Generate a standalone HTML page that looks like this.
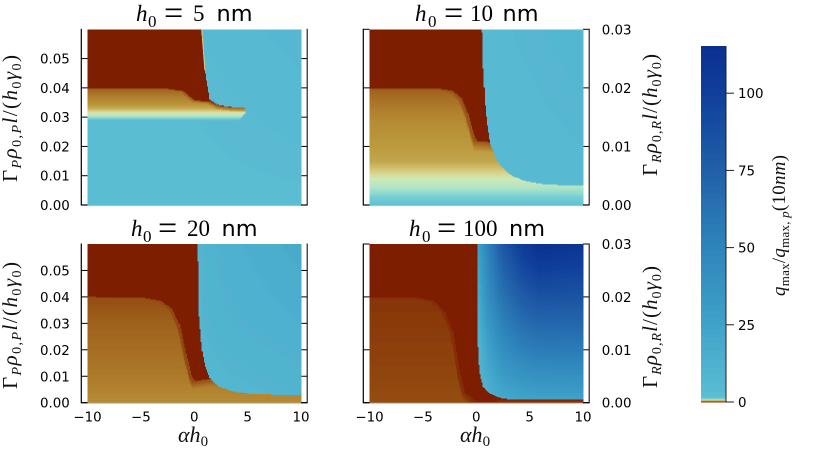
<!DOCTYPE html>
<html lang="en">
<head>
<meta charset="utf-8">
<title>Heatmaps of q_max over alpha h0 for four film thicknesses</title>
<style>
html,body{margin:0;padding:0;background:#fff;width:830px;height:475px;overflow:hidden}
svg{display:block}
.tick{font-family:"DejaVu Sans",sans-serif;font-size:13.4px;fill:#000}
.math{font-family:"Liberation Serif",serif;fill:#111}
.title-text{font-family:"Liberation Serif",serif;font-size:23px;fill:#000}
.sans{font-family:"DejaVu Sans",sans-serif;font-size:22.4px}
.eq{font-size:34px}
</style>
</head>
<body>
<svg id="chart" xmlns="http://www.w3.org/2000/svg" width="830" height="475" viewBox="0 0 830 475">
  <rect x="0" y="0" width="830" height="475" fill="#fff"/>
  <g id="panels"></g>

  <text class="title-text" y="21"><tspan x="136" font-style="italic">h</tspan><tspan x="148" y="27" font-size="17">0</tspan><tspan x="164" y="24" class="eq">=</tspan><tspan x="193" y="21">5</tspan><tspan x="216.5" y="21" class="sans">nm</tspan></text>
  <text class="title-text" y="21"><tspan x="415" font-style="italic">h</tspan><tspan x="428" y="27" font-size="17">0</tspan><tspan x="444" y="24" class="eq">=</tspan><tspan x="470" y="21">10</tspan><tspan x="502.5" y="21" class="sans">nm</tspan></text>
  <text class="title-text" y="236"><tspan x="131" font-style="italic">h</tspan><tspan x="143" y="242" font-size="17">0</tspan><tspan x="158" y="239" class="eq">=</tspan><tspan x="187" y="236">20</tspan><tspan x="221.5" y="236" class="sans">nm</tspan></text>
  <text class="title-text" y="236"><tspan x="409" font-style="italic">h</tspan><tspan x="422" y="242" font-size="17">0</tspan><tspan x="437" y="239" class="eq">=</tspan><tspan x="463" y="236">100</tspan><tspan x="509" y="236" class="sans">nm</tspan></text>

  <text class="math" font-size="21" textLength="127" transform="translate(17,182) rotate(-90)">Γ<tspan dy="4" font-size="14" font-style="italic">P</tspan><tspan dy="-4" font-style="italic">ρ</tspan><tspan dy="4" font-size="14">0,</tspan><tspan font-size="14" font-style="italic">P</tspan><tspan dy="-4" font-style="italic">l</tspan>/(<tspan font-style="italic">h</tspan><tspan dy="4" font-size="14">0</tspan><tspan dy="-4" font-style="italic">γ</tspan><tspan dy="4" font-size="14">0</tspan><tspan dy="-4">)</tspan></text>
  <text class="math" font-size="21" textLength="127" transform="translate(17,389) rotate(-90)">Γ<tspan dy="4" font-size="14" font-style="italic">P</tspan><tspan dy="-4" font-style="italic">ρ</tspan><tspan dy="4" font-size="14">0,</tspan><tspan font-size="14" font-style="italic">P</tspan><tspan dy="-4" font-style="italic">l</tspan>/(<tspan font-style="italic">h</tspan><tspan dy="4" font-size="14">0</tspan><tspan dy="-4" font-style="italic">γ</tspan><tspan dy="4" font-size="14">0</tspan><tspan dy="-4">)</tspan></text>
  <text class="math" font-size="21" textLength="122" transform="translate(657,176) rotate(-90)">Γ<tspan dy="4" font-size="14" font-style="italic">R</tspan><tspan dy="-4" font-style="italic">ρ</tspan><tspan dy="4" font-size="14">0,</tspan><tspan font-size="14" font-style="italic">R</tspan><tspan dy="-4" font-style="italic">l</tspan>/(<tspan font-style="italic">h</tspan><tspan dy="4" font-size="14">0</tspan><tspan dy="-4" font-style="italic">γ</tspan><tspan dy="4" font-size="14">0</tspan><tspan dy="-4">)</tspan></text>
  <text class="math" font-size="21" textLength="122" transform="translate(657,388) rotate(-90)">Γ<tspan dy="4" font-size="14" font-style="italic">R</tspan><tspan dy="-4" font-style="italic">ρ</tspan><tspan dy="4" font-size="14">0,</tspan><tspan font-size="14" font-style="italic">R</tspan><tspan dy="-4" font-style="italic">l</tspan>/(<tspan font-style="italic">h</tspan><tspan dy="4" font-size="14">0</tspan><tspan dy="-4" font-style="italic">γ</tspan><tspan dy="4" font-size="14">0</tspan><tspan dy="-4">)</tspan></text>

  <text class="math" font-size="22" y="442"><tspan x="178" font-style="italic">αh</tspan><tspan dy="4" font-size="15">0</tspan></text>
  <text class="math" font-size="22" y="442"><tspan x="460" font-style="italic">αh</tspan><tspan dy="4" font-size="15">0</tspan></text>

  <text class="math" font-size="19" textLength="141" transform="translate(785,296) rotate(-90)"><tspan font-style="italic">q</tspan><tspan dy="4" font-size="13">max</tspan><tspan dy="-4">/</tspan><tspan font-style="italic">q</tspan><tspan dy="4" font-size="13">max, </tspan><tspan font-size="13" font-style="italic">p</tspan><tspan dy="-4">(10</tspan><tspan font-style="italic">nm</tspan>)</text>
</svg>

<script>
// Colour scale: value stops and their colours
const cmapQ = [0, 0.1, 0.2, 0.4, 0.55, 0.7, 0.8, 0.95, 1.2, 2, 10, 25, 50, 75, 100, 115];
const cmapColor = ['#7e1f00','#863208','#91480e','#ad7a2a','#bd9b3e','#d8cf84','#cfe9b8','#9fe0cc','#72cdd4','#5bbdd2','#52b4d0','#3fa3c9','#2e85bb','#2160a9','#103f9b','#0a3191'];

// Axis ticks
const xTickValues = [-10, -5, 0, 5, 10];
const xTickLabels = ['−10', '−5', '0', '5', '10'];
const leftTickValues = [0, 0.01, 0.02, 0.03, 0.04, 0.05];
const leftTickLabels = ['0.00', '0.01', '0.02', '0.03', '0.04', '0.05'];
const rightTickValues = [0, 0.01, 0.02, 0.03];
const rightTickLabels = ['0.00', '0.01', '0.02', '0.03'];
const colorbarTickValues = [0, 25, 50, 75, 100];
const colorbarTickLabels = ['0', '25', '50', '75', '100'];

// h0 = 5 nm
const p5RidgeAlpha = [-10, -2.6, -1.05, -0.25, 0.07, 1.47, 2.41, 3.66, 10];
const p5RidgeY = [0.0398, 0.0398, 0.039, 0.0367, 0.0358, 0.0353, 0.0339, 0.0334, 0.0332];
const p5EdgeAlpha = [0.7, 1.0, 1.47, 2.41, 3.66, 4.82, 4.85, 10];
const p5EdgeY = [0.0602, 0.046, 0.0358, 0.0341, 0.0335, 0.0332, 0, 0];
const p5FloorAlpha = [-10, 4.13, 4.82, 4.85, 10];
const p5FloorY = [0.029, 0.029, 0.0315, 0.07, 0.07];
const p5GradY = [0, 0.0288, 0.0295, 0.0303, 0.0312, 0.032, 0.033, 0.035, 0.037, 0.0398];
const p5GradQ = [2.5, 2.5, 1.2, 0.92, 0.82, 0.72, 0.6, 0.5, 0.42, 0.3];
const p5DepthD = [0, 0.0012, 0.003];
const p5DepthQ = [0.3, 0.6, 5];
const p5BlueAlpha = [-10, 0, 10];
const p5BlueY = [0, 0.06];
const p5BlueQ = [[2.6, 2.6, 2.8], [3, 4, 7]];

// h0 = 10 nm
const p10RidgeAlpha = [-10, -3.4, -2.15, -1.36, -0.74, -0.28, 0.04, 1.29, 10];
const p10RidgeY = [0.0199, 0.0199, 0.0195, 0.0182, 0.0156, 0.0125, 0.011, 0.0108, 0.0108];
const p10EdgeAlpha = [0.54, 0.66, 0.88, 1.07, 1.29, 1.76, 2.38, 3.32, 4.4, 5.97, 7.85, 10];
const p10EdgeY = [0.0301, 0.0227, 0.0162, 0.01335, 0.0108, 0.00824, 0.00653, 0.00511, 0.00426, 0.0037, 0.00346, 0.00346];
const p10FloorAlpha = [-10, 10];
const p10FloorY = [0, 0];
const p10GradY = [0, 0.001, 0.002, 0.003, 0.0045, 0.006, 0.0075, 0.01, 0.015, 0.0199];
const p10GradQ = [1.8, 1.3, 1.05, 0.9, 0.8, 0.68, 0.58, 0.55, 0.46, 0.3];
const p10DepthD = [0, 0.002, 0.004];
const p10DepthQ = [0.25, 0.6, 5];
const p10BlueAlpha = [0, 10];
const p10BlueY = [0, 0.03];
const p10BlueQ = [[4, 5], [5, 8]];

// h0 = 20 nm
const p20RidgeAlpha = [-10, -4.77, -3.2, -2.1, -1.33, -0.7, -0.24, 0.07, 1.47, 10];
const p20RidgeY = [0.0401, 0.0398, 0.0388, 0.0357, 0.0294, 0.018, 0.0105, 0.0083, 0.0092, 0.0092];
const p20EdgeAlpha = [0.32, 0.44, 0.7, 1.0, 1.47, 2.41, 3.66, 5.2, 7.4, 10];
const p20EdgeY = [0.0602, 0.0332, 0.0206, 0.01425, 0.0092, 0.00605, 0.0044, 0.00355, 0.0032, 0.0032];
const p20FloorAlpha = [-10, 10];
const p20FloorY = [0, 0];
const p20GradY = [0, 0.01, 0.02, 0.03, 0.04];
const p20GradQ = [0.48, 0.4, 0.35, 0.3, 0.22];
const p20DepthD = [0, 0.004];
const p20DepthQ = [0.2, 0.5];
const p20BlueAlpha = [0, 1, 3, 10];
const p20BlueY = [0, 0.03, 0.06];
const p20BlueQ = [[6, 6, 7, 9], [7, 9, 11, 14], [8, 10, 13, 18]];

// h0 = 100 nm
const p100RidgeAlpha = [-10, -5.6, -4, -2.93, -2.15, -1.52, -1.05, -0.28, 0.1, 3.16, 10];
const p100RidgeY = [0.02, 0.0199, 0.0194, 0.0172, 0.0134, 0.00586, 0.0021, 0.0007, 0.0003, 0.0005, 0.0005];
const p100EdgeAlpha = [0.1, 0.12, 0.29, 0.66, 1.29, 2.23, 3.16, 10];
const p100EdgeY = [0.0301, 0.0115, 0.00586, 0.003, 0.00178, 0.00095, 0.0007, 0.0006];
const p100FloorAlpha = [-10, 10];
const p100FloorY = [0, 0];
const p100GradY = [0, 0.01, 0.02];
const p100GradQ = [0.22, 0.16, 0.11];
const p100DepthD = [0, 0.002];
const p100DepthQ = [0.08, 0.25];
const p100BlueAlpha = [0.1, 0.5, 1, 2.4, 4.3, 5.9, 10];
const p100BlueY = [0, 0.001, 0.003, 0.01, 0.02, 0.03];
const p100BlueQ = [
  [15, 15, 15, 18, 20, 22, 22],
  [12, 13, 14, 20, 25, 26, 26],
  [8, 10, 14, 25, 31, 33, 34],
  [8, 14, 24, 42, 52, 56, 56],
  [15, 26, 40, 62, 78, 85, 84],
  [25, 36, 50, 80, 104, 115, 110]
];

const NS = 'http://www.w3.org/2000/svg';
const svgRoot = document.getElementById('panels');

function lerp(xs, ys, x, leftValue) {
  if (x < xs[0]) return leftValue !== undefined ? leftValue : ys[0];
  for (let i = 1; i < xs.length; i++) {
    if (x <= xs[i]) {
      const t = (x - xs[i - 1]) / (xs[i] - xs[i - 1]);
      return ys[i - 1] + t * (ys[i] - ys[i - 1]);
    }
  }
  return ys[ys.length - 1];
}
function blueAt(xs, ys, m, a, y) {
  const rowVals = m.map(function (row) { return lerp(xs, row, a); });
  return lerp(ys, rowVals, y);
}
function hexToRgb(h) {
  return [parseInt(h.slice(1, 3), 16), parseInt(h.slice(3, 5), 16), parseInt(h.slice(5, 7), 16)];
}
const cmapRgb = cmapColor.map(hexToRgb);
function colorOf(q) {
  const out = [0, 1, 2].map(function (c) {
    const channel = cmapRgb.map(function (v) { return v[c]; });
    return Math.round(lerp(cmapQ, channel, q) / 3) * 3;
  });
  return 'rgb(' + out.join(',') + ')';
}
function el(parent, tag) {
  const e = document.createElementNS(NS, tag);
  parent.appendChild(e);
  return e;
}
function setAll(e, attrs) {
  Object.keys(attrs).forEach(function (k) { e.setAttribute(k, attrs[k]); });
}

const panelList = [
  { id: 'h5', left: 87.5, right: 301, top: 29.3, bottom: 205, ymax: 0.06, side: 'left', showX: false, ticksY: leftTickValues, labelsY: leftTickLabels,
    ridgeA: p5RidgeAlpha, ridgeY: p5RidgeY, edgeA: p5EdgeAlpha, edgeY: p5EdgeY, floorA: p5FloorAlpha, floorY: p5FloorY, gradY: p5GradY, gradQ: p5GradQ, depthD: p5DepthD, depthQ: p5DepthQ, blueA: p5BlueAlpha, blueY: p5BlueY, blueQ: p5BlueQ },
  { id: 'h10', left: 369.5, right: 583, top: 29.3, bottom: 205, ymax: 0.03, side: 'right', showX: false, ticksY: rightTickValues, labelsY: rightTickLabels,
    ridgeA: p10RidgeAlpha, ridgeY: p10RidgeY, edgeA: p10EdgeAlpha, edgeY: p10EdgeY, floorA: p10FloorAlpha, floorY: p10FloorY, gradY: p10GradY, gradQ: p10GradQ, depthD: p10DepthD, depthQ: p10DepthQ, blueA: p10BlueAlpha, blueY: p10BlueY, blueQ: p10BlueQ },
  { id: 'h20', left: 87.5, right: 301, top: 244, bottom: 402.7, ymax: 0.06, side: 'left', showX: true, ticksY: leftTickValues, labelsY: leftTickLabels,
    ridgeA: p20RidgeAlpha, ridgeY: p20RidgeY, edgeA: p20EdgeAlpha, edgeY: p20EdgeY, floorA: p20FloorAlpha, floorY: p20FloorY, gradY: p20GradY, gradQ: p20GradQ, depthD: p20DepthD, depthQ: p20DepthQ, blueA: p20BlueAlpha, blueY: p20BlueY, blueQ: p20BlueQ },
  { id: 'h100', left: 369.5, right: 583, top: 244, bottom: 402.7, ymax: 0.03, side: 'right', showX: true, ticksY: rightTickValues, labelsY: rightTickLabels,
    ridgeA: p100RidgeAlpha, ridgeY: p100RidgeY, edgeA: p100EdgeAlpha, edgeY: p100EdgeY, floorA: p100FloorAlpha, floorY: p100FloorY, gradY: p100GradY, gradQ: p100GradQ, depthD: p100DepthD, depthQ: p100DepthQ, blueA: p100BlueAlpha, blueY: p100BlueY, blueQ: p100BlueQ }
];

function qAt(p, a, y) {
  const edge = lerp(p.edgeA, p.edgeY, a, Infinity);
  const floor = lerp(p.floorA, p.floorY, a);
  if (y >= edge || y < floor) return blueAt(p.blueA, p.blueY, p.blueQ, a, y);
  const ridge = lerp(p.ridgeA, p.ridgeY, a);
  if (y > ridge) return 0;
  const ahead = lerp(p.ridgeA, p.ridgeY, a + 0.25);
  const base = lerp(p.gradY, p.gradQ, y);
  const ceil = lerp(p.depthD, p.depthQ, Math.max(0, ahead - y));
  return Math.min(base, ceil);
}

panelList.forEach(function (p) {
  const xScale = function (a) { return p.left + (a + 10) / 20 * (p.right - p.left); };
  const yScale = function (v) { return p.bottom - v / p.ymax * (p.bottom - p.top); };
  const g = el(svgRoot, 'g');
  
  
  const spineL = p.left - 6.2;
  const spineR = p.right + 6.2;

  // y ticks, under the heatmap
  p.ticksY.forEach(function (v, i) {
    const t = el(g, 'line');
    setAll(t, { x1: spineL, x2: p.left, y1: yScale(v), y2: yScale(v), stroke: '#000', 'stroke-width': 1 });
    
    
    const t2 = el(g, 'line');
    setAll(t2, { x1: p.right, x2: spineR, y1: yScale(v), y2: yScale(v), stroke: '#000', 'stroke-width': 1 });
    
    
    const lab = el(g, 'text');
    lab.setAttribute('class', 'tick');
    
    
    lab.textContent = p.labelsY[i];
    if (p.side === 'left') {
      setAll(lab, { x: spineL - 11.5, y: yScale(v) + 5, 'text-anchor': 'end' });
    } else {
      setAll(lab, { x: spineR + 12.5, y: yScale(v) + 5, 'text-anchor': 'start' });
    }
  });
  if (p.showX) {
    xTickValues.forEach(function (v, i) {
      const lab = el(g, 'text');
      setAll(lab, { x: xScale(v), y: p.bottom + 19, 'text-anchor': 'middle', 'class': 'tick' });
      
      
      lab.textContent = xTickLabels[i];
    });
  }

  // heatmap cells (run-merged vertically)
  const heat = el(g, 'g');
  
  
  heat.setAttribute('shape-rendering', 'crispEdges');
  const nCols = 200;
  const nRows = 176;
  const dA = 20 / nCols;
  const dY = p.ymax / nRows;
  function addRun(col, r0, r1, color) {
    const a = -10 + col * dA;
    const r = el(heat, 'rect');
    const yTop = yScale(r1 * dY);
    setAll(r, { x: xScale(a), y: yTop, width: xScale(a + dA) - xScale(a) + 0.4, height: yScale(r0 * dY) - yTop + 0.4, fill: color });
    
    
  }
  for (let c = 0; c < nCols; c++) {
    const a = -10 + (c + 0.5) * dA;
    let start = 0;
    let cur = colorOf(qAt(p, a, 0.5 * dY));
    for (let r = 1; r < nRows; r++) {
      const col = colorOf(qAt(p, a, (r + 0.5) * dY));
      if (col !== cur) {
        addRun(c, start, r, cur);
        start = r;
        cur = col;
      }
    }
    addRun(c, start, nRows, cur);
  }

  // pale sliver along the upper blue boundary for the thinnest film
  if (p.id === 'h5') {
    const pts = [];
    p.edgeA.forEach(function (a, i) {
      if (p.edgeY[i] >= 0.04) pts.push(xScale(a) + ',' + yScale(Math.min(p.edgeY[i], p.ymax)));
    });
    const sl = el(g, 'polyline');
    setAll(sl, { points: pts.join(' '), fill: 'none', stroke: '#e6d98c', 'stroke-width': 0.9 });
    
    
  }

  // spines
  const s1 = el(g, 'line');
  setAll(s1, { x1: spineL, x2: spineL, y1: p.top - 0.5, y2: p.bottom + 0.5, stroke: '#000', 'stroke-width': 1.2 });
  
  
  const s2 = el(g, 'line');
  setAll(s2, { x1: spineR, x2: spineR, y1: p.top - 0.5, y2: p.bottom + 0.5, stroke: '#111', 'stroke-width': 1.1 });
  
  
  const s3 = el(g, 'line');
  setAll(s3, { x1: spineL, x2: p.left, y1: p.bottom, y2: p.bottom, stroke: '#000', 'stroke-width': 1.2 });
  
  
  const s4 = el(g, 'line');
  setAll(s4, { x1: p.left, x2: p.right, y1: p.bottom + 0.6, y2: p.bottom + 0.6, stroke: '#bbb', 'stroke-width': 1 });
  
  
  const s5 = el(g, 'line');
  setAll(s5, { x1: p.right, x2: spineR, y1: p.bottom, y2: p.bottom, stroke: '#000', 'stroke-width': 1.2 });
  
  
});

// colorbar
(function () {
  const cbLeft = 701, cbRight = 726, cbBottom = 402, qMax = 115.3;
  const pxPerQ = 3.088;
  const cbY = function (q) { return cbBottom - q * pxPerQ; };
  const g = el(svgRoot, 'g');
  
  
  const steps = 712;
  for (let i = 0; i < steps; i++) {
    const q0 = qMax * i / steps;
    const q1 = qMax * (i + 1) / steps;
    const r = el(g, 'rect');
    setAll(r, { x: cbLeft, y: cbY(q1), width: cbRight - cbLeft, height: cbY(q0) - cbY(q1) + 0.3, fill: colorOf((q0 + q1) / 2), 'shape-rendering': 'crispEdges' });
    
    
  }
  const sp = el(g, 'line');
  setAll(sp, { x1: cbRight, x2: cbRight, y1: cbY(qMax), y2: cbBottom + 0.5, stroke: '#222', 'stroke-width': 1 });
  
  
  colorbarTickValues.forEach(function (v, i) {
    const t = el(g, 'line');
    setAll(t, { x1: cbRight, x2: cbRight + 8, y1: cbY(v), y2: cbY(v), stroke: '#222', 'stroke-width': 1 });
    
    
    const lab = el(g, 'text');
    setAll(lab, { x: 738, y: cbY(v) + 5, 'class': 'tick' });
    
    
    lab.textContent = colorbarTickLabels[i];
  });
})();
</script>
</body>
</html>
